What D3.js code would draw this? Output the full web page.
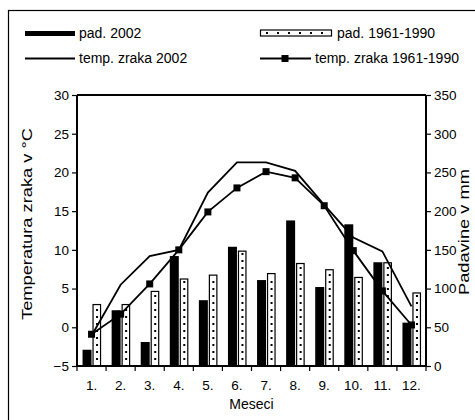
<!DOCTYPE html>
<html>
<head>
<meta charset="utf-8">
<script src="https://cdn.jsdelivr.net/npm/d3@7"></script>
<style>
  body { margin: 0; background: #fff; }
  text { font-family: "Liberation Sans", Arial, sans-serif; fill: #000; }
</style>
</head>
<body>
<div id="chart"></div>
<script>
var months = ["1.", "2.", "3.", "4.", "5.", "6.", "7.", "8.", "9.", "10.", "11.", "12."];
var pad2002 = [21, 72, 31, 142, 85, 154, 111, 188, 102, 183, 134, 56];
var pad6190 = [80, 80, 97, 113, 118, 149, 120, 133, 125, 115, 134, 95];
var temp2002 = [-1.1, 5.5, 9.2, 10.0, 17.4, 21.3, 21.3, 20.2, 15.8, 11.6, 9.8, 2.7];
var temp6190 = [-0.9, 1.7, 5.6, 10.0, 14.9, 18.0, 20.1, 19.3, 15.7, 9.9, 4.7, 0.3];
var tempTicks = [-5, 0, 5, 10, 15, 20, 25, 30];
var padTicks = [0, 50, 100, 150, 200, 250, 300, 350];

var W = 475, H = 420;
var pLeft = 77, pRight = 426, pTop = 95, pBottom = 366;

var svg = d3.select("#chart").append("svg")
    .attr("width", W)
    .attr("height", H);

// outer frame
svg.append("rect")
    .attr("x", 8.5).attr("y", 10.5)
    .attr("width", W).attr("height", H)
    .attr("fill", "none").attr("stroke", "#000").attr("stroke-width", 1.2);

var x = d3.scaleBand().domain(months).range([pLeft, pRight]).padding(0);
var yT = d3.scaleLinear().domain([-5, 30]).range([pBottom, pTop]);
var yP = d3.scaleLinear().domain([0, 350]).range([pBottom, pTop]);
var bw = x.bandwidth();
function cx(i) { return x(months[i]) + bw / 2; }

// bars 2002
svg.selectAll("rect.b02")
    .data(pad2002)
    .enter().append("rect")
        .attr("class", "b02")
        .attr("x", function(d, i) { return cx(i) - 9; })
        .attr("y", function(d) { return yP(d); })
        .attr("width", 9)
        .attr("height", function(d) { return yP(0) - yP(d); })
        .attr("fill", "#000");

// bars 1961-1990 (dotted)
svg.selectAll("rect.b61")
    .data(pad6190)
    .enter().append("rect")
        .attr("class", "b61")
        .attr("x", function(d, i) { return cx(i) + 1.5; })
        .attr("y", function(d) { return yP(d) + 0.5; })
        .attr("width", 7.5)
        .attr("height", function(d) { return yP(0) - yP(d) - 0.5; })
        .attr("fill", "#fff")
        .attr("stroke", "#000")
        .attr("stroke-width", 1.2);

pad6190.forEach(function(d, i) {
    var barTop = yP(d) + 3;
    var dots = d3.range(yP(0) - 7, barTop, -7);
    svg.selectAll(null)
        .data(dots)
        .enter().append("rect")
            .attr("x", cx(i) + 4.5)
            .attr("y", function(v) { return v - 1; })
            .attr("width", 2).attr("height", 2)
            .attr("fill", "#000");
});

// temperature lines
var line = d3.line()
    .x(function(d, i) { return cx(i); })
    .y(function(d) { return yT(d); });

svg.append("path")
    .datum(temp2002)
    .attr("d", line)
    .attr("fill", "none").attr("stroke", "#000").attr("stroke-width", 1.8);

svg.append("path")
    .datum(temp6190)
    .attr("d", line)
    .attr("fill", "none").attr("stroke", "#000").attr("stroke-width", 1.8);

svg.selectAll("rect.mk")
    .data(temp6190)
    .enter().append("rect")
        .attr("class", "mk")
        .attr("x", function(d, i) { return cx(i) - 3.5; })
        .attr("y", function(d) { return yT(d) - 3.5; })
        .attr("width", 7).attr("height", 7)
        .attr("fill", "#000");

// axes
var axL = svg.append("g")
    .attr("transform", "translate(" + pLeft + ",0)")
    .call(d3.axisLeft(yT).tickValues(tempTicks).tickSize(5).tickPadding(3));
var axR = svg.append("g")
    .attr("transform", "translate(" + pRight + ",0)")
    .call(d3.axisRight(yP).tickValues(padTicks).tickSize(5).tickPadding(3));
var axB = svg.append("g")
    .attr("transform", "translate(0," + pBottom + ")")
    .call(d3.axisBottom(x).tickSize(0).tickPadding(14));

// x ticks between categories
svg.selectAll("line.xt")
    .data(d3.range(months.length + 1))
    .enter().append("line")
        .attr("class", "xt")
        .attr("x1", function(i) { return pLeft + i * bw; })
        .attr("x2", function(i) { return pLeft + i * bw; })
        .attr("y1", pBottom).attr("y2", pBottom + 5)
        .attr("stroke", "#000").attr("stroke-width", 1.2);

[axL, axR, axB].forEach(function(a) {
    a.select(".domain").attr("stroke-width", 2);
    a.selectAll("text").style("font-size", "13.5px")
        .style("font-family", "'Liberation Sans', Arial, sans-serif");
    a.selectAll(".tick line").attr("stroke-width", 1.2);
});
axL.select(".domain").attr("d", "M0," + pTop + "V" + pBottom);
axR.select(".domain").attr("d", "M0," + pTop + "V" + pBottom);
axB.select(".domain").attr("d", "M" + pLeft + ",0H" + pRight);
svg.append("line")
    .attr("x1", pLeft).attr("x2", pRight)
    .attr("y1", pTop).attr("y2", pTop)
    .attr("stroke", "#000").attr("stroke-width", 2);

// axis titles
svg.append("text")
    .attr("transform", "translate(32,224) rotate(-90)")
    .attr("text-anchor", "middle")
    .attr("textLength", 192)
    .attr("lengthAdjust", "spacingAndGlyphs")
    .style("font-size", "14px")
    .text("Temperatura zraka v °C");

svg.append("text")
    .attr("transform", "translate(469,232) rotate(-90)")
    .attr("text-anchor", "middle")
    .attr("textLength", 126)
    .attr("lengthAdjust", "spacingAndGlyphs")
    .style("font-size", "14px")
    .text("Padavine v mm");

svg.append("text")
    .attr("x", (pLeft + pRight) / 2)
    .attr("y", 409)
    .attr("text-anchor", "middle")
    .style("font-size", "14px")
    .text("Meseci");

// legend
svg.append("rect")
    .attr("x", 25).attr("y", 31).attr("width", 50).attr("height", 5)
    .attr("fill", "#000");
svg.append("text").attr("x", 79).attr("y", 38).style("font-size", "14px").text("pad. 2002");

svg.append("rect")
    .attr("x", 260.5).attr("y", 30).attr("width", 71).attr("height", 6)
    .attr("fill", "#fff").attr("stroke", "#000").attr("stroke-width", 1.2);
svg.selectAll("rect.ld")
    .data(d3.range(266, 330, 11))
    .enter().append("rect")
        .attr("class", "ld")
        .attr("x", function(d) { return d; })
        .attr("y", 32)
        .attr("width", 2).attr("height", 2)
        .attr("fill", "#000");
svg.append("text").attr("x", 337).attr("y", 38).style("font-size", "14px").text("pad. 1961-1990");

svg.append("line")
    .attr("x1", 25).attr("x2", 75).attr("y1", 58.5).attr("y2", 58.5)
    .attr("stroke", "#000").attr("stroke-width", 2);
svg.append("text").attr("x", 79).attr("y", 63).style("font-size", "14px").text("temp. zraka 2002");

svg.append("line")
    .attr("x1", 260).attr("x2", 311).attr("y1", 58.5).attr("y2", 58.5)
    .attr("stroke", "#000").attr("stroke-width", 2);
svg.append("rect")
    .attr("x", 281.5).attr("y", 55).attr("width", 7).attr("height", 7)
    .attr("fill", "#000");
svg.append("text").attr("x", 315).attr("y", 63).style("font-size", "14px").text("temp. zraka 1961-1990");
</script>
</body>
</html>
